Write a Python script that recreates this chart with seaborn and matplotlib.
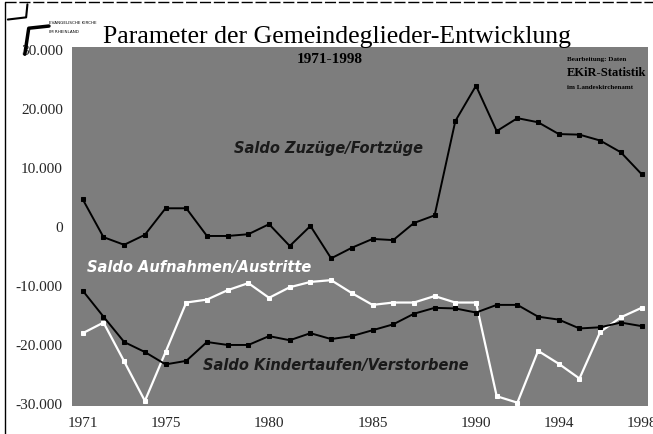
import numpy as np
import pandas as pd
import matplotlib
matplotlib.use("Agg")
import matplotlib.pyplot as plt
from matplotlib.lines import Line2D
from matplotlib.ticker import FuncFormatter
import seaborn as sns

# Daten
jahre = list(range(1971, 1999))
zuzuege_fortzuege = [4700, -1700, -3000, -1300, 3200, 3200, -1500, -1500, -1200, 500,
                     -3200, 200, -5300, -3500, -2000, -2200, 700, 2000, 18000, 24000,
                     16300, 18500, 17800, 15800, 15700, 14700, 12700, 9000]
taufen_verstorbene = [-10800, -15200, -19500, -21200, -23300, -22700, -19500, -20000, -20000, -18500,
                      -19200, -18000, -19000, -18500, -17500, -16500, -14700, -13700, -13800, -14500,
                      -13200, -13200, -15200, -15700, -17200, -17000, -16200, -16800]
aufnahmen_austritte = [-18000, -16200, -22800, -29500, -21200, -12800, -12300, -10700, -9500, -12000,
                       -10200, -9300, -9000, -11200, -13200, -12800, -12800, -11700, -12800, -12800,
                       -28700, -29800, -21000, -23200, -25700, -17800, -15300, -13700]
xticks = [1971, 1975, 1980, 1985, 1990, 1994, 1998]
yticks = [-30000, -20000, -10000, 0, 10000, 20000, 30000]

df = pd.DataFrame({"Jahr": jahre, "zf": zuzuege_fortzuege,
                   "tv": taufen_verstorbene, "aa": aufnahmen_austritte})

sns.set_style("white")
plt.rcParams["font.family"] = ["Liberation Serif", "DejaVu Serif"]

fig = plt.figure(figsize=(6.53, 4.34), dpi=100)
ax = fig.add_axes([0.110, 0.064, 0.882, 0.828])
ax.set_facecolor("#7d7d7d")

sns.lineplot(data=df, x="Jahr", y="aa", ax=ax, color="white", lw=1.6,
             marker="s", markersize=3.5, markeredgecolor="white")
sns.lineplot(data=df, x="Jahr", y="zf", ax=ax, color="black", lw=1.4,
             marker="s", markersize=3.5, markeredgecolor="black")
sns.lineplot(data=df, x="Jahr", y="tv", ax=ax, color="black", lw=1.4,
             marker="s", markersize=3.5, markeredgecolor="black")

ax.set_xlim(1970.47, 1998.3)
ax.set_ylim(-30400, 30600)
ax.set_xticks(xticks)
ax.set_yticks(yticks)
ax.yaxis.set_major_formatter(FuncFormatter(lambda v, p: f"{int(v):,}".replace(",", ".")))
ax.tick_params(axis="both", labelsize=11, length=3, color="#555555")
ax.tick_params(axis="x", pad=5)
ax.set_xlabel("")
ax.set_ylabel("")
for s in ax.spines.values():
    s.set_visible(False)

# Reihenbeschriftungen
ax.text(1978.3, 12600, "Saldo Zuzüge/Fortzüge", fontsize=10.5, style="italic",
        fontweight="bold", family="DejaVu Sans", color="#1a1a1a")
ax.text(1971.2, -7700, "Saldo Aufnahmen/Austritte", fontsize=10.5, style="italic",
        fontweight="bold", family="DejaVu Sans", color="white")
ax.text(1976.8, -24300, "Saldo Kindertaufen/Verstorbene", fontsize=10.5, style="italic",
        fontweight="bold", family="DejaVu Sans", color="#1a1a1a")

# Titel
fig.text(0.158, 0.902, "Parameter der Gemeindeglieder-Entwicklung", fontsize=18.5, color="black")
fig.text(0.505, 0.855, "1971-1998", fontsize=11, fontweight="bold", ha="center", color="black")

# Quelle rechts oben
fig.text(0.868, 0.86, "Bearbeitung: Daten", fontsize=5, fontweight="bold", color="black")
fig.text(0.868, 0.825, "EKiR-Statistik", fontsize=9, fontweight="bold", color="black")
fig.text(0.868, 0.795, "im Landeskirchenamt", fontsize=5, fontweight="bold", color="black")

# Logo und Rahmen
fig.add_artist(Line2D([0.042, 0.040, 0.012], [0.99, 0.96, 0.955], color="black", lw=1.5))
fig.add_artist(Line2D([0.038, 0.044, 0.075], [0.875, 0.935, 0.94], color="black", lw=2.5))
fig.text(0.075, 0.945, "EVANGELISCHE KIRCHE", fontsize=3, color="black", family="DejaVu Sans")
fig.text(0.075, 0.925, "IM RHEINLAND", fontsize=3, color="black", family="DejaVu Sans")
fig.add_artist(Line2D([0.008, 0.008], [0.0, 0.995], color="black", lw=1))
fig.add_artist(Line2D([0.008, 1.0], [0.995, 0.995], color="black", lw=1, ls=(0, (8, 2))))

fig.savefig("out.png", dpi=100)
